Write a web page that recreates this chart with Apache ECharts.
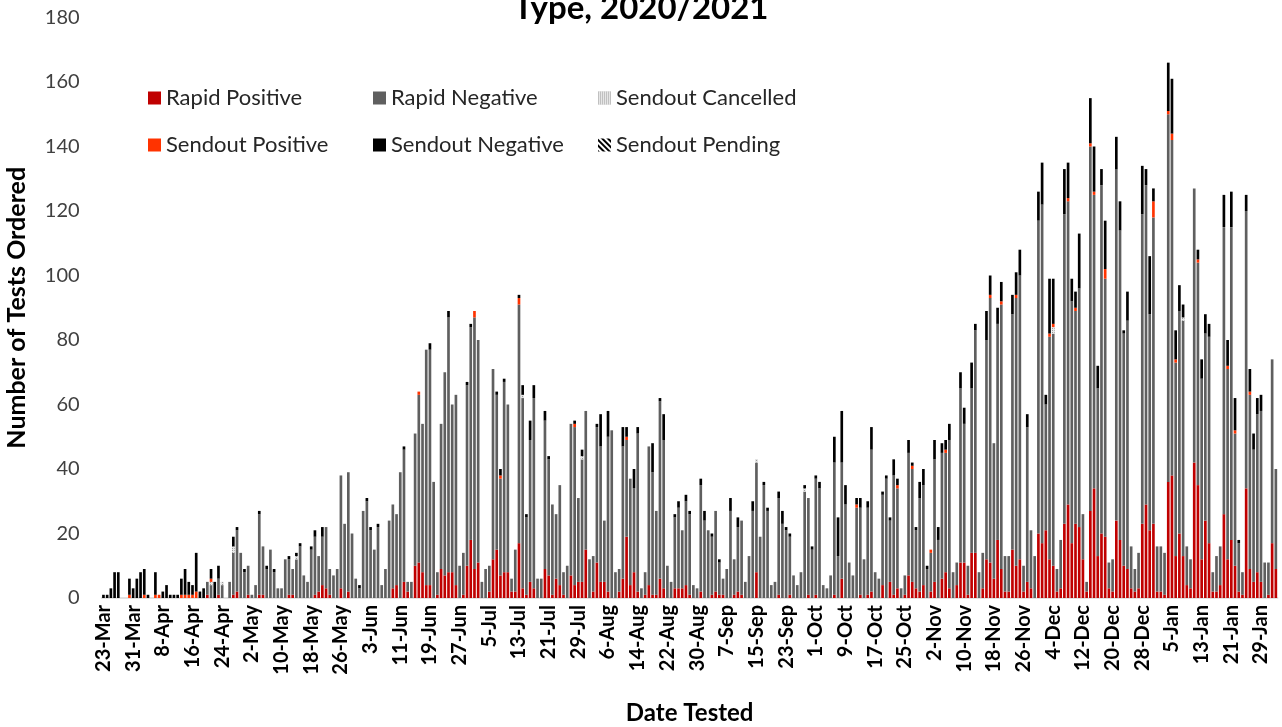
<!DOCTYPE html>
<html><head><meta charset="utf-8">
<script src="https://cdn.jsdelivr.net/npm/echarts@6/dist/echarts.min.js"></script>
<style>html,body{margin:0;padding:0;background:#fff}#c{width:1282px;height:727px}</style>
</head><body><div id="c"></div>
<script>
// Categories: daily, 23-Mar-2020 .. 2-Feb-2021
const monthNames = ['Jan','Feb','Mar','Apr','May','Jun','Jul','Aug','Sep','Oct','Nov','Dec'];
const dayCount = 317;
const categories = [];
for (let i = 0; i < dayCount; i++) {
  const d = new Date(Date.UTC(2020, 2, 23 + i));
  categories.push(d.getUTCDate() + '-' + monthNames[d.getUTCMonth()]);
}
const yTicks = [0,20,40,60,80,100,120,140,160,180];

const rapidPositive = [
0,0,0,0,0,0,0,0,0,0, 0,0,0,0,0,0,0,0,0,0, 0,0,0,0,0,0,0,0,1,0,
0,1,0,0,0,1,2,0,0,1, 0,0,1,1,0,0,0,0,0,0, 1,1,0,0,0,0,0,1,2,4,
3,1,0,0,3,0,2,0,0,0, 0,0,0,0,0,0,0,0,3,4, 0,5,2,0,10,11,8,4,4,0,
1,9,7,8,8,4,0,1,10,18, 9,11,0,0,2,12,15,7,8,8, 2,2,17,3,1,5,3,0,0,9,
7,1,6,4,1,0,7,4,5,5, 15,0,2,11,5,5,2,0,0,2, 6,19,4,8,2,0,1,4,1,1,
6,3,0,0,3,3,3,4,1,0, 0,2,0,0,1,2,1,1,0,0, 1,2,1,0,0,0,8,0,0,0,
0,0,1,0,0,1,0,0,0,0, 1,0,1,0,0,0,0,1,0,6, 0,0,0,0,1,0,1,2,0,0,
4,0,5,1,3,0,1,7,5,3, 2,4,0,2,5,0,6,8,3,0, 4,11,11,1,14,14,0,3,12,11,
6,18,9,2,2,15,10,12,2,5, 3,0,20,17,21,12,10,2,3,23, 29,17,23,22,12,2,27,34,13,20,
19,3,2,24,18,10,9,3,2,3, 23,29,21,23,2,2,1,36,38,13, 20,13,4,3,42,35,12,24,17,2,
2,4,26,12,18,10,2,1,34,9, 5,8,5,0,1,17,9
];
const rapidNegative = [
0,0,0,0,0,0,0,0,0,0, 0,0,0,0,0,0,0,0,0,0, 0,0,0,0,0,0,0,0,4,4,
0,5,4,0,5,13,19,14,8,9, 1,4,25,15,9,15,8,3,3,12, 11,8,12,16,7,5,15,18,11,15,
19,8,7,9,35,23,37,20,6,3, 27,30,21,15,22,4,9,24,26,22, 39,41,3,5,41,52,46,73,73,36,
7,45,63,79,52,59,10,13,56,66, 78,69,5,9,8,59,48,30,59,52, 4,13,74,59,24,44,59,6,6,46,
36,28,20,31,7,10,47,49,26,38, 43,12,11,42,42,19,48,52,8,7, 41,30,33,26,49,3,7,43,38,26,
55,46,10,5,22,25,18,26,25,4, 3,33,24,21,18,25,10,5,9,27, 11,20,23,5,13,27,34,19,35,27,
4,5,30,23,21,18,7,4,8,33, 30,15,36,34,4,3,7,41,13,36, 29,11,7,28,27,12,27,44,8,6,
28,37,19,37,31,3,6,38,35,18, 29,31,9,12,38,18,39,37,46,8, 7,54,43,9,51,69,8,11,68,82,
42,67,82,11,11,73,83,88,8,48, 18,13,97,105,39,69,72,7,15,96, 94,75,66,74,14,3,113,91,52,108,
80,8,10,109,96,72,77,13,7,11, 96,99,67,95,14,14,13,114,104,60, 69,73,12,9,85,69,56,58,64,6,
11,12,89,59,97,41,15,7,86,54, 41,49,53,11,10,57,31
];
const sendoutCancelled = [
0,0,0,0,0,0,0,0,0,0, 0,0,0,0,0,0,0,0,0,0, 0,0,0,0,0,0,0,0,0,1,
0,0,1,0,0,2,0,0,0,0, 0,0,0,0,0,0,0,0,0,0, 0,0,1,0,0,0,0,0,0,0,
0,0,0,0,0,0,0,0,0,0, 0,0,0,0,0,0,0,0,0,0, 0,0,0,0,0,0,0,0,0,0,
0,0,0,0,0,0,0,0,0,0, 0,0,0,0,0,0,0,0,0,0, 0,0,0,1,0,0,0,0,0,0,
0,0,0,0,0,0,0,0,0,1, 0,0,0,0,0,0,0,0,0,0, 0,0,0,0,0,0,0,0,0,0,
0,0,0,0,0,0,0,0,0,0, 0,0,0,0,0,0,0,0,0,0, 0,0,0,0,0,0,1,0,0,0,
0,0,0,0,0,0,0,0,0,1, 0,0,0,0,0,0,0,0,0,0, 0,0,0,0,0,0,0,0,0,0,
0,0,0,0,0,0,0,0,0,0, 0,0,0,0,0,0,0,0,0,0, 0,0,0,0,0,0,0,0,0,0,
0,0,0,0,0,0,0,0,0,0, 0,0,0,0,0,0,2,0,0,0, 0,0,0,0,0,0,0,0,0,0,
0,0,0,0,0,0,0,0,0,0, 0,0,0,0,0,0,0,0,0,0, 0,1,0,0,0,0,0,0,0,0,
0,0,0,0,0,0,0,0,0,0, 0,0,0,0,0,0,0
];
const sendoutPositive = [
0,0,0,0,0,0,0,1,0,0, 0,1,0,0,1,1,0,0,0,0, 0,1,1,1,1,2,0,0,0,1,
0,0,0,0,0,0,0,0,0,0, 0,0,0,0,0,0,0,0,0,0, 0,0,0,0,0,0,0,0,0,0,
0,0,0,0,0,0,0,0,0,0, 0,0,0,0,0,0,0,0,0,0, 0,0,0,0,0,1,0,0,0,0,
0,0,0,0,0,0,0,0,0,0, 2,0,0,0,0,0,0,1,0,0, 0,0,2,0,0,0,0,0,0,0,
0,0,0,0,0,0,0,1,0,0, 0,0,0,0,0,0,0,0,0,0, 0,1,0,0,0,0,0,0,0,0,
0,0,0,0,0,0,0,0,0,0, 0,0,0,0,0,0,0,0,0,0, 0,0,0,0,0,0,0,0,0,0,
0,0,0,0,0,0,0,0,0,0, 0,0,0,0,0,0,0,0,0,0, 0,0,0,1,0,0,0,0,0,0,
0,0,0,0,1,0,0,0,1,0, 0,0,0,1,0,0,0,1,0,0, 0,0,0,0,0,0,0,0,0,1,
0,0,1,0,0,0,1,0,0,0, 0,0,0,0,0,1,1,0,0,0, 1,0,1,0,0,0,1,1,0,0,
3,0,0,0,0,0,0,0,0,0, 0,0,0,5,0,0,0,1,2,1, 0,0,0,0,0,1,0,0,0,0,
0,0,0,1,0,1,0,0,0,1, 0,0,0,0,0,0,0
];
const sendoutNegative = [
1,1,3,8,8,0,0,5,3,6, 8,8,1,0,7,0,2,4,1,1, 1,5,8,4,3,12,2,3,0,3,
5,4,0,0,0,3,1,0,1,0, 0,0,1,0,1,0,1,0,0,0, 1,0,1,1,0,0,1,2,0,3,
0,0,0,0,0,0,0,0,0,1, 0,1,1,0,1,0,0,0,0,0, 0,1,0,0,0,0,0,0,2,0,
0,0,0,2,0,0,0,0,1,1, 0,0,0,0,0,0,1,2,1,0, 0,0,1,3,1,6,4,0,0,3,
1,0,0,0,0,0,0,1,0,2, 0,0,0,1,10,0,8,0,0,0, 6,3,0,6,2,0,0,0,9,0,
1,8,0,0,1,2,0,2,1,0, 0,2,3,0,1,0,1,0,0,4, 0,3,0,0,0,3,0,0,1,1,
0,0,2,4,1,1,0,0,0,1, 0,1,1,2,0,0,0,8,12,16, 6,0,0,2,3,0,2,7,0,0,
1,1,1,5,2,0,0,4,1,1, 5,5,1,0,6,4,3,3,5,0, 0,5,5,0,8,2,0,0,9,6,
0,5,6,0,0,6,7,8,0,4, 0,0,9,13,3,17,14,0,0,14, 11,7,5,17,0,0,14,14,7,5,
15,0,0,10,9,1,9,0,0,0, 15,5,18,4,0,0,0,15,17,9, 8,4,0,0,0,3,6,6,4,0,
0,0,10,8,11,10,1,0,5,7, 5,5,5,0,0,0,0
];
const sendoutPending = [];

const chart = echarts.init(document.getElementById('c'), null, {renderer: 'canvas'});
const FONT = 'Lato, "Open Sans", sans-serif';
const cancelledDecal = {symbol: 'rect', symbolSize: 1, color: '#9a9a9a', backgroundColor: '#e6e6e6', dashArrayX: [1, 1], dashArrayY: [1, 1], rotation: 0};
const pendingDecal = {symbol: 'rect', symbolSize: 1, color: '#000', backgroundColor: '#fff', dashArrayX: [1, 0], dashArrayY: [1.5, 2], rotation: Math.PI / 4};

function mkSeries(name, data, color, decal) {
  const itemStyle = {color: color};
  if (decal) itemStyle.decal = decal;
  return {
    name: name, type: 'bar', stack: 'total', data: data,
    barCategoryGap: '28%',
    itemStyle: itemStyle,
    emphasis: {disabled: true},
    animation: false
  };
}

const legendPos = [
  ['Rapid Positive', 148, 87], ['Rapid Negative', 373, 87], ['Sendout Cancelled', 598, 87],
  ['Sendout Positive', 148, 134], ['Sendout Negative', 373, 134], ['Sendout Pending', 598, 134]
];

chart.setOption({
  backgroundColor: '#fff',
  animation: false,
  title: {
    text: 'Type, 2020/2021', left: 'center', top: -13,
    textStyle: {fontFamily: FONT, fontSize: 33, fontWeight: 'bold', color: '#000'}
  },
  legend: legendPos.map(p => ({
    data: [p[0]], left: p[1], top: p[2], padding: 0, itemGap: 0,
    itemWidth: 13, itemHeight: 13, icon: 'rect', selectedMode: false,
    textStyle: {fontFamily: FONT, fontSize: 22, color: '#262626'}
  })),
  grid: {left: 101.6, right: 4.3, top: 17.5, bottom: 129, containLabel: false, outerBoundsMode: 'none'},
  xAxis: {
    type: 'category', data: categories,
    name: 'Date Tested', nameLocation: 'middle', nameGap: 103,
    nameTextStyle: {fontFamily: FONT, fontSize: 24, fontWeight: 'bold', color: '#000'},
    axisTick: {show: false},
    axisLine: {lineStyle: {color: '#D9D9D9', width: 1.5}},
    axisLabel: {interval: 7, rotate: 90, margin: 7, fontFamily: FONT, fontSize: 20, fontWeight: 'bold', color: '#000'}
  },
  yAxis: {
    type: 'value', min: yTicks[0], max: yTicks[yTicks.length - 1], interval: 20,
    name: 'Number of Tests Ordered', nameLocation: 'middle', nameGap: 72, nameRotate: 90,
    nameTextStyle: {fontFamily: FONT, fontSize: 25, fontWeight: 'bold', color: '#000'},
    axisLine: {show: false}, axisTick: {show: false}, splitLine: {show: false},
    axisLabel: {margin: 22, fontFamily: FONT, fontSize: 20, color: '#404040'}
  },
  series: [
    mkSeries('Rapid Positive', rapidPositive, '#C00000'),
    mkSeries('Rapid Negative', rapidNegative, '#5F5F5F'),
    mkSeries('Sendout Cancelled', sendoutCancelled, '#D0D0D0', cancelledDecal),
    mkSeries('Sendout Positive', sendoutPositive, '#FF3300'),
    mkSeries('Sendout Negative', sendoutNegative, '#000000'),
    mkSeries('Sendout Pending', sendoutPending, '#FFFFFF', pendingDecal)
  ]
});
</script></body></html>
